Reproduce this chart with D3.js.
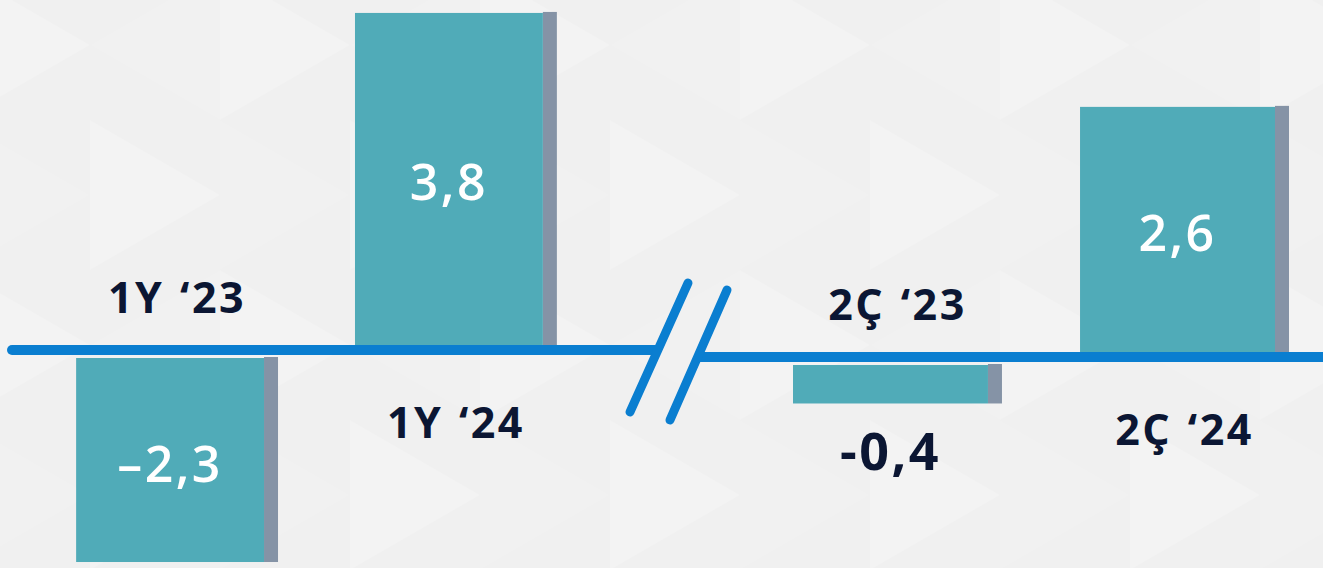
<!DOCTYPE html>
<html lang="en">
<head>
<meta charset="utf-8">
<title>1Y / 2Ç bars</title>
<script src="https://cdnjs.cloudflare.com/ajax/libs/d3/7.8.5/d3.min.js"></script>
<style>
  html, body { margin: 0; padding: 0; background: #f0f0f0; overflow: hidden; }
  svg { display: block; }
</style>
</head>
<body>
<script>
var categories = ["1Y \u201823", "1Y \u201824", "2\u00C7 \u201823", "2\u00C7 \u201824"];
var panels = ["1Y", "1Y", "2\u00C7", "2\u00C7"];
var values = [-2.3, 3.8, -0.4, 2.6];
var valueLabels = ["\u20132,3", "3,8", "-0,4", "2,6"];

var w = 1323, h = 568;
var teal = "#50abb8", shade = "#8593a6", lineBlue = "#0a7ed0", navy = "#0b1633";

var svg = d3.select("body").append("svg").attr("width", w).attr("height", h);

// faint triangle background
var defs = svg.append("defs");
var pat = defs.append("pattern").attr("id", "tri").attr("patternUnits", "userSpaceOnUse")
  .attr("width", 260).attr("height", 300).attr("x", -40).attr("y", -30);
pat.append("rect").attr("width", 260).attr("height", 300).attr("fill", "#f0f0f0");
pat.append("path").attr("d", "M0,0 L130,75 L0,150 Z M130,150 L260,225 L130,300 Z").attr("fill", "#f3f3f3");
pat.append("path").attr("d", "M260,0 L130,75 L260,150 Z M0,150 L130,225 L0,300 Z").attr("fill", "#f1f1f1");
svg.append("rect").attr("width", w).attr("height", h).attr("fill", "url(#tri)");

var panelInfo = {
  "1Y": { base: 350, x0: 12, x1: 655, range: [12, 621], outer: 0.23, inner: 0.276, pxPerUnit: 88.7 },
  "2\u00C7": { base: 357, x0: 700, x1: 1323, range: [700, 1382], outer: 0.324, inner: 0.272, pxPerUnit: 96.2 }
};
Object.keys(panelInfo).forEach(function(p) {
  var info = panelInfo[p];
  var cats = categories.filter(function(c, i) { return panels[i] === p; });
  info.x = d3.scaleBand().domain(cats).range(info.range).paddingInner(info.inner).paddingOuter(info.outer);
  info.y = d3.scaleLinear().domain([0, 1]).range([info.base, info.base - info.pxPerUnit]);
});

var data = categories.map(function(c, i) {
  return { cat: c, panel: panelInfo[panels[i]], v: values[i], label: valueLabels[i] };
});

var gap = 8, shadowW = 14;

var bars = svg.selectAll("g.bar").data(data).enter().append("g").attr("class", "bar");
function barTop(d) { return d.v >= 0 ? d.panel.y(d.v) : d.panel.base + gap; }
function barH(d) { return d.v >= 0 ? d.panel.base + 4 - d.panel.y(d.v) : d.panel.y(d.v) - d.panel.base; }

bars.append("rect")
  .attr("x", function(d) { return d.panel.x(d.cat) + d.panel.x.bandwidth() - shadowW; })
  .attr("y", function(d) { return barTop(d) - 1; })
  .attr("width", shadowW)
  .attr("height", function(d) { return barH(d) + 1; })
  .attr("fill", shade);
bars.append("rect")
  .attr("x", function(d) { return d.panel.x(d.cat); })
  .attr("y", barTop)
  .attr("width", function(d) { return d.panel.x.bandwidth() - shadowW; })
  .attr("height", barH)
  .attr("fill", teal);

// baselines
Object.keys(panelInfo).forEach(function(p) {
  var info = panelInfo[p];
  svg.append("line")
    .attr("x1", info.x0).attr("x2", info.x1)
    .attr("y1", info.base).attr("y2", info.base)
    .attr("stroke", lineBlue).attr("stroke-width", 10)
    .attr("stroke-linecap", p === "1Y" ? "round" : "butt");
});

// axis break marks
var L = panelInfo["1Y"], R = panelInfo["2\u00C7"];
[[L.x1 + 33, 283, L.x1 - 25, 412], [R.x0 + 27, 290, R.x0 - 30, 420]].forEach(function(s) {
  svg.append("line")
    .attr("x1", s[0]).attr("y1", s[1]).attr("x2", s[2]).attr("y2", s[3])
    .attr("stroke", lineBlue).attr("stroke-width", 9).attr("stroke-linecap", "round");
});

// category labels
bars.append("text")
  .attr("x", function(d) { return d.panel.x(d.cat) + d.panel.x.bandwidth() / 2; })
  .attr("y", function(d) { return d.v >= 0 ? d.panel.base + 88 : d.panel.base - 37; })
  .attr("text-anchor", "middle")
  .attr("font-family", "Open Sans, sans-serif")
  .attr("font-weight", 700)
  .attr("font-size", "43px")
  .attr("letter-spacing", "2.5px")
  .attr("word-spacing", "2px")
  .attr("fill", navy)
  .text(function(d) { return d.cat; });

// value labels
bars.append("text")
  .attr("x", function(d) { return d.panel.x(d.cat) + (d.panel.x.bandwidth() - shadowW) / 2; })
  .attr("y", function(d) {
    var inside = Math.abs(barH(d)) > 80;
    if (!inside) return barTop(d) + barH(d) + 67;
    var top = barTop(d), bot = Math.min(barTop(d) + barH(d), h);
    return (top + bot) / 2 + (d.v < 0 ? 22 : 17);
  })
  .attr("text-anchor", "middle")
  .attr("font-family", "Open Sans, sans-serif")
  .attr("font-weight", function(d) { return Math.abs(barH(d)) > 80 ? 600 : 700; })
  .attr("font-size", function(d) { return Math.abs(barH(d)) > 80 ? "50px" : "52px"; })
  .attr("letter-spacing", "2.5px")
  .attr("fill", function(d) { return Math.abs(barH(d)) > 80 ? "#ffffff" : navy; })
  .text(function(d) { return d.label; });
</script>
</body>
</html>
